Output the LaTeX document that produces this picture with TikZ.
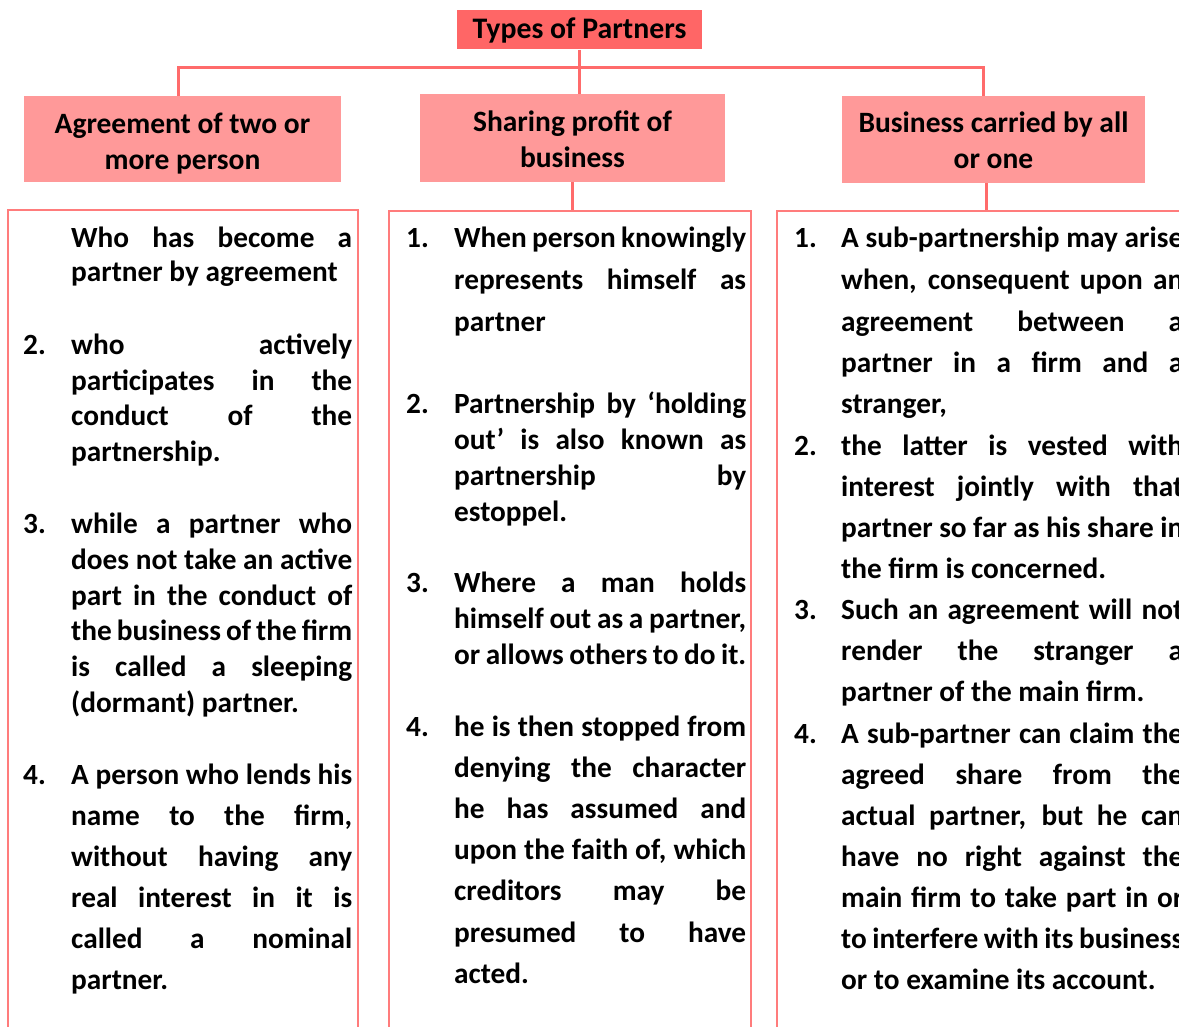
\documentclass[tikz,border=0pt]{standalone}
\usepackage{fontspec}
\setmainfont{Carlito}
\definecolor{titlefill}{HTML}{FF6666}
\definecolor{headfill}{HTML}{FF9999}
\definecolor{linecol}{HTML}{FF6B6B}
\definecolor{boxcol}{HTML}{FF7C7C}
\newcounter{lnc}
\newcommand{\JL}[4]{\stepcounter{lnc}\node[txt] (t\thelnc) at (#1,#2) {\makebox[#3pt][s]{#4}};}
\newcommand{\LL}[3]{\stepcounter{lnc}\node[txt] (t\thelnc) at (#1,#2) {#3};}
\newcommand{\dn}[2]{\raisebox{-#1pt}[\height][\depth]{#2}}
\begin{document}
\begin{tikzpicture}[x=1pt,y=-1pt,
  txt/.style={anchor=base west,inner sep=0pt,font=\bfseries\fontsize{29.3}{34}\selectfont},
  head/.style={fill=headfill,draw=none,inner sep=0pt,align=center,font=\bfseries\fontsize{29.5}{36}\selectfont},
  conn/.style={draw=linecol,line width=3pt},
  colbox/.style={draw=boxcol,line width=2.5pt,fill=none,inner sep=0pt}]
\useasboundingbox (0,0) rectangle (1179,1027);
\clip (0,0) rectangle (1179,1027);
% title and headers
\node[head,fill=titlefill,minimum width=245pt,minimum height=39pt,font=\bfseries\fontsize{29.8}{36}\selectfont] (title) at (579.5,30) {Types of Partners};
\node[head,minimum width=317pt,minimum height=86pt] (hl) at (182.5,139) {\dn{5}{Agreement of two or}\\\dn{5}{more person}};
\node[head,minimum width=305pt,minimum height=88pt] (hm) at (572.5,138) {\dn{1}{Sharing profit of}\\\dn{1}{business}};
\node[head,minimum width=303pt,minimum height=87pt] (hr) at (993.5,139.5) {\dn{1}{Business carried by all}\\\dn{1}{or one}};
% column boxes
\node[colbox,minimum width=350pt,minimum height=840pt] (bl) at (183,630) {};
\node[colbox,minimum width=362pt,minimum height=840pt] (bm) at (570,631) {};
\node[colbox,minimum width=418pt,minimum height=840pt] (br) at (986,631) {};
% connectors
\coordinate (jl) at (178,68);
\coordinate (jr) at (983,68);
\draw[conn] (title.south) -- (title.south |- hm.north);
\draw[conn] (jl |- hl.north) -- (jl) -- (jr) -- (jr |- hr.north);
\draw[conn] (hm.south -| 572,0) -- (bm.north -| 572,0);
\draw[conn] (br.north |- hr.south) -- (br.north);
% left column
\JL{71}{248}{281}{Who has become a}
\LL{71}{282}{partner by agreement}
\LL{23}{354}{2.}
\JL{71}{354}{281}{who actively}
\JL{71}{390}{281}{participates in the}
\JL{71}{425}{281}{conduct of the}
\LL{71}{461}{partnership.}
\LL{23}{533}{3.}
\JL{71}{533}{281}{while a partner who}
\JL{71}{569}{281}{does not take an active}
\JL{71}{605}{281}{part in the conduct of}
\JL{71}{640}{281}{the business of the firm}
\JL{71}{676}{281}{is called a sleeping}
\LL{71}{712}{(dormant) partner.}
\LL{23}{784}{4.}
\JL{71}{784}{281}{A person who lends his}
\JL{71}{825}{281}{name to the firm,}
\JL{71}{866}{281}{without having any}
\JL{71}{907}{281}{real interest in it is}
\JL{71}{948}{281}{called a nominal}
\LL{71}{989}{partner.}
% middle column
\LL{406}{248}{1.}
\JL{454}{248}{292}{When person knowingly}
\JL{454}{290}{292}{represents himself as}
\LL{454}{331}{partner}
\LL{406}{413}{2.}
\JL{454}{413}{292}{Partnership by ‘holding}
\JL{454}{449}{292}{out’ is also known as}
\JL{454}{485}{292}{partnership by}
\LL{454}{521}{estoppel.}
\LL{406}{592}{3.}
\JL{454}{592}{292}{Where a man holds}
\JL{454}{628}{292}{himself out as a partner,}
\JL{454}{664}{292}{or allows others to do it.}
\LL{406}{736}{4.}
\JL{454}{736}{292}{he is then stopped from}
\JL{454}{777}{292}{denying the character}
\JL{454}{818}{292}{he has assumed and}
\JL{454}{859}{292}{upon the faith of, which}
\JL{454}{900}{292}{creditors may be}
\JL{454}{942}{292}{presumed to have}
\LL{454}{983}{acted.}
% right column
\LL{794}{248}{1.}
\JL{841}{248}{342}{A sub-partnership may arise}
\JL{841}{290}{342}{when, consequent upon an}
\JL{841}{331}{342}{agreement between a}
\JL{841}{372}{342}{partner in a firm and a}
\LL{841}{413}{stranger,}
\LL{794}{455}{2.}
\JL{841}{455}{342}{the latter is vested with}
\JL{841}{496}{342}{interest jointly with that}
\JL{841}{537}{342}{partner so far as his share in}
\LL{841}{578}{the firm is concerned.}
\LL{794}{619}{3.}
\JL{841}{619}{342}{Such an agreement will not}
\JL{841}{660}{342}{render the stranger a}
\LL{841}{701}{partner of the main firm.}
\LL{794}{743}{4.}
\JL{841}{743}{342}{A sub-partner can claim the}
\JL{841}{784}{342}{agreed share from the}
\JL{841}{825}{342}{actual partner, but he can}
\JL{841}{866}{342}{have no right against the}
\JL{841}{907}{342}{main firm to take part in or}
\JL{841}{948}{342}{to interfere with its business}
\LL{841}{989}{or to examine its account.}
\end{tikzpicture}
\end{document}
